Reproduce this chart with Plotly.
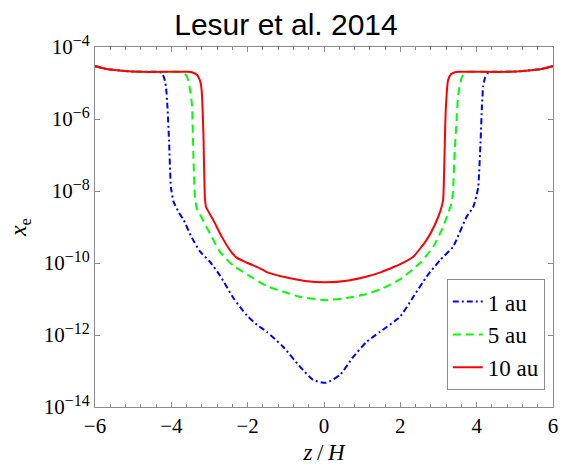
import plotly.graph_objects as go

# z/H positions and electron fraction x_e
z_1au = [-6.0, -5.7, -5.3, -4.8, -4.35, -4.25, -4.19, -4.14, -4.10, -4.06, -4.01, -3.94, -3.80, -3.68,
         -3.46, -3.25, -3.0, -2.72, -2.37, -2.02, -1.75, -1.50, -1.07, -0.63, -0.28, 0.05, 0.42, 0.77,
         1.12, 1.47, 1.99, 2.34, 2.69, 3.04, 3.38, 3.47, 3.74, 3.91, 4.0, 4.04, 4.10, 4.14, 4.17, 4.22,
         4.30, 4.4, 4.8, 5.3, 5.7, 6.0]
xe_1au = [2.95e-5, 2.45e-5, 2.19e-5, 2.04e-5, 2.04e-5, 1.91e-5, 1.41e-5, 7.9e-6, 2.0e-6, 2.5e-7, 1.26e-8,
          5.0e-9, 2.5e-9, 1.58e-9, 5.0e-10, 2.1e-10, 1.12e-10, 4.4e-11, 1.05e-11, 3.5e-12, 1.9e-12,
          1.23e-12, 4.7e-13, 1.32e-13, 5.6e-14, 4.7e-14, 7.8e-14, 2.5e-13, 6.5e-13, 1.23e-12, 3.2e-12,
          1.15e-11, 4.2e-11, 1.2e-10, 2.8e-10, 4.4e-10, 1.95e-9, 3.6e-9, 7.9e-9, 1.26e-8, 2.1e-7, 2.5e-6,
          7.9e-6, 1.41e-5, 1.91e-5, 2.04e-5, 2.04e-5, 2.19e-5, 2.45e-5, 2.95e-5]

z_5au = [-6.0, -5.7, -5.3, -4.8, -3.8, -3.68, -3.60, -3.55, -3.50, -3.46, -3.42, -3.38, -3.33, -3.25,
         -2.98, -2.72, -2.37, -2.0, -1.50, -1.0, -0.63, 0.05, 0.6, 1.12, 1.5, 1.99, 2.51, 2.86, 3.12,
         3.25, 3.34, 3.38, 3.42, 3.47, 3.51, 3.56, 3.62, 3.70, 3.80, 4.8, 5.3, 5.7, 6.0]
xe_5au = [2.95e-5, 2.45e-5, 2.19e-5, 2.04e-5, 2.04e-5, 1.95e-5, 1.58e-5, 1.12e-5, 5.6e-6, 2.5e-6, 7.9e-8,
          6.3e-9, 3.2e-9, 2.24e-9, 6.3e-10, 2.0e-10, 8.3e-11, 4.7e-11, 2.3e-11, 1.51e-11, 1.15e-11,
          9.3e-12, 1.07e-11, 1.38e-11, 1.9e-11, 3.5e-11, 9.8e-11, 2.8e-10, 1.0e-9, 2.4e-9, 4.5e-9,
          1.0e-8, 1.0e-7, 7.9e-7, 4.0e-6, 8.9e-6, 1.51e-5, 1.91e-5, 2.04e-5, 2.04e-5, 2.19e-5, 2.45e-5,
          2.95e-5]

z_10au = [-6.0, -5.7, -5.3, -4.8, -3.6, -3.46, -3.33, -3.27, -3.23, -3.20, -3.16, -3.12, -3.09, -2.90,
          -2.68, -2.46, -2.29, -2.0, -1.68, -1.50, -1.0, -0.5, 0.05, 0.6, 1.12, 1.5, 1.81, 2.0, 2.34,
          2.69, 2.90, 3.05, 3.12, 3.16, 3.19, 3.25, 3.33, 3.43, 3.6, 4.8, 5.3, 5.7, 6.0]
xe_10au = [2.95e-5, 2.45e-5, 2.19e-5, 2.04e-5, 2.04e-5, 2.0e-5, 1.70e-5, 1.32e-5, 9.8e-6, 5.1e-6, 4.0e-7,
           6.3e-9, 3.6e-9, 1.55e-9, 5.4e-10, 2.24e-10, 1.41e-10, 1.0e-10, 7.1e-11, 5.6e-11, 4.0e-11,
           3.16e-11, 2.9e-11, 3.2e-11, 4.2e-11, 5.6e-11, 7.6e-11, 9.3e-11, 1.5e-10, 4.4e-10, 1.12e-9,
           2.8e-9, 5.6e-9, 1.26e-7, 1.78e-6, 1.20e-5, 1.78e-5, 2.0e-5, 2.04e-5, 2.04e-5, 2.19e-5,
           2.45e-5, 2.95e-5]

series_names = ["1 au", "5 au", "10 au"]
x_ticks = [-6, -4, -2, 0, 2, 4, 6]
x_ticktext = ["\u22126", "\u22124", "\u22122", "0", "2", "4", "6"]
y_ticks = [1e-14, 1e-12, 1e-10, 1e-8, 1e-6, 1e-4]
y_exponents = ["\u221214", "\u221212", "\u221210", "\u22128", "\u22126", "\u22124"]
y_ticktext = ["10<sup><span style='font-size:16px'>%s</span></sup>" % e for e in y_exponents]

FONT = "Liberation Serif, serif"

fig = go.Figure()
styles = [("#0000ff", "6px,3px,2px,3px"), ("#00ff00", "8px,5px"), ("#ff0000", "solid")]
for (zz, xe, name, (col, dash)) in zip([z_1au, z_5au, z_10au], [xe_1au, xe_5au, xe_10au],
                                       series_names, styles):
    fig.add_trace(go.Scatter(x=zz, y=xe, mode="lines", name=name,
                             line=dict(color=col, width=2, dash=dash, shape="spline", smoothing=0.5)))

axis_common = dict(showgrid=False, zeroline=False, showline=True, mirror="ticks",
                   linecolor="#8c8c8c", linewidth=1, ticks="inside", tickcolor="#8c8c8c")

fig.update_xaxes(range=[-6, 6], tickvals=x_ticks, ticktext=x_ticktext, ticklen=5,
                 tickfont=dict(family=FONT, size=21, color="black"),
                 minor=dict(dtick=0.4, ticks="inside", ticklen=3, tickcolor="#8c8c8c", showgrid=False),
                 title=dict(text="<i>z</i>\u2009/\u2009<i>H</i>",
                            font=dict(family=FONT, size=23, color="black"), standoff=6),
                 **axis_common)
fig.update_yaxes(type="log", range=[-14, -4], tickvals=y_ticks, ticktext=y_ticktext, ticklen=5,
                 tickfont=dict(family=FONT, size=21, color="black"),
                 title=dict(text="<i>x</i><sub>e</sub>",
                            font=dict(family=FONT, size=24, color="black"), standoff=10),
                 **axis_common)

fig.update_layout(
    width=572, height=472,
    margin=dict(l=95, r=19, t=47, b=65),
    plot_bgcolor="white", paper_bgcolor="white",
    title=dict(text="Lesur et al. 2014", x=0.5, xanchor="center", y=0.948, yanchor="middle",
               font=dict(family="Liberation Sans, Arial, sans-serif", size=30, color="black")),
    legend=dict(x=0.982, y=0.047, xanchor="right", yanchor="bottom",
                bgcolor="white", bordercolor="#8c8c8c", borderwidth=1,
                font=dict(family=FONT, size=23, color="black"),
                tracegroupgap=0, itemwidth=30),
    showlegend=True,
)

fig.write_html("out.html")
